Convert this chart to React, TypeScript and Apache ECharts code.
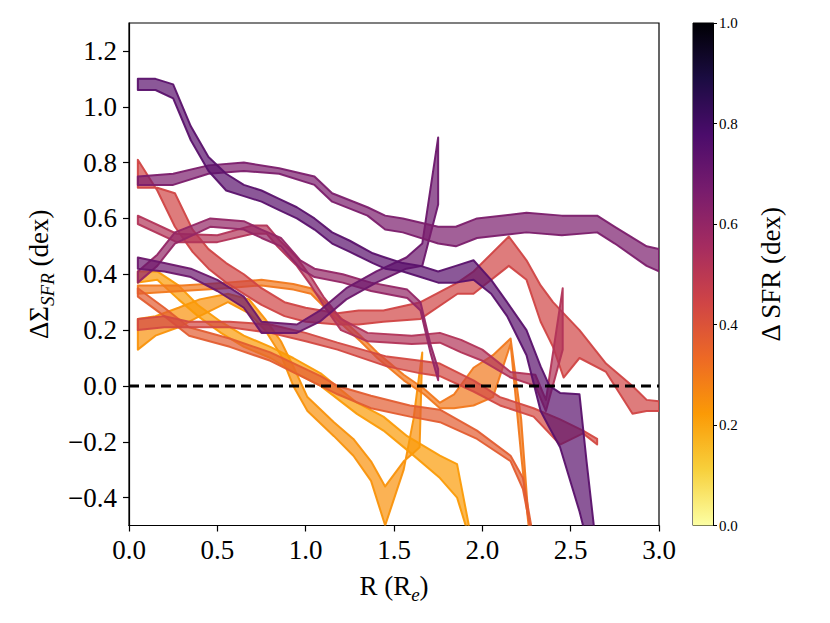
import React, { useEffect, useRef } from "react";
import * as echarts from "echarts";

// ---------- axes / ticks ----------
const X_TICKS = [0, 0.5, 1.0, 1.5, 2.0, 2.5, 3.0];
const Y_TICKS = [-0.4, -0.2, 0.0, 0.2, 0.4, 0.6, 0.8, 1.0, 1.2];
const CBAR_TICKS = [0, 0.2, 0.4, 0.6, 0.8, 1.0];

// inferno colormap stops (t, colour); colourbar uses inferno reversed
const INFERNO = ["#000004", "#1B0C42", "#4B0C6B", "#781C6D", "#A52C60", "#CF4446", "#ED6925", "#FB9A06", "#F7D03C", "#FCFFA4"];

// ---------- bands (R, lower, upper) and their ΔSFR colour value ----------
const A_val = 0.74;
const A_x = [0.05, 0.15, 0.25, 0.35, 0.45, 0.55, 0.65, 0.75, 0.85, 0.95, 1.05, 1.15, 1.25, 1.38, 1.45, 1.55, 1.65, 1.75, 1.85, 1.95, 2.05, 2.14, 2.25, 2.33, 2.38, 2.44, 2.55, 2.59, 2.64];
const A_hi = [1.10, 1.10, 1.08, 0.93, 0.82, 0.76, 0.72, 0.70, 0.67, 0.64, 0.60, 0.55, 0.52, 0.475, 0.46, 0.44, 0.43, 0.41, 0.43, 0.45, 0.38, 0.30, 0.20, 0.07, 0.00, -0.025, -0.03, -0.27, -0.55];
const A_lo = [1.06, 1.06, 1.03, 0.88, 0.77, 0.70, 0.68, 0.66, 0.63, 0.60, 0.56, 0.51, 0.48, 0.44, 0.42, 0.41, 0.39, 0.37, 0.37, 0.38, 0.33, 0.25, 0.11, -0.09, -0.15, -0.22, -0.45, -0.55, -0.60];

const B_val = 0.66;
const B_x = [0.05, 0.25, 0.45, 0.65, 0.85, 1.05, 1.15, 1.35, 1.45, 1.55, 1.75, 1.85, 1.97, 2.25, 2.45, 2.65, 2.75, 2.93, 3.0];
const B_hi = [0.75, 0.76, 0.79, 0.80, 0.78, 0.75, 0.69, 0.64, 0.61, 0.60, 0.57, 0.57, 0.60, 0.62, 0.61, 0.61, 0.57, 0.50, 0.49];
const B_lo = [0.72, 0.72, 0.76, 0.77, 0.76, 0.72, 0.66, 0.61, 0.56, 0.55, 0.51, 0.50, 0.53, 0.55, 0.54, 0.55, 0.51, 0.43, 0.41];

const C_val = 0.70;
const C_x = [0.05, 0.2, 0.35, 0.5, 0.65, 0.75, 0.95, 1.08, 1.23, 1.4, 1.57, 1.66, 1.75];
const C_hi = [0.46, 0.44, 0.42, 0.38, 0.32, 0.23, 0.22, 0.27, 0.35, 0.41, 0.46, 0.51, 0.89];
const C_lo = [0.42, 0.41, 0.39, 0.34, 0.28, 0.19, 0.19, 0.23, 0.31, 0.37, 0.42, 0.43, 0.65];

const D_val = 0.60;
const D_x = [0.05, 0.16, 0.26, 0.46, 0.65, 0.75, 0.86, 0.97, 1.05, 1.21, 1.37, 1.575, 1.65, 1.706, 1.75];
const D_hi = [0.41, 0.47, 0.55, 0.60, 0.59, 0.56, 0.53, 0.45, 0.42, 0.40, 0.37, 0.345, 0.30, 0.15, 0.06];
const D_lo = [0.37, 0.43, 0.51, 0.57, 0.56, 0.53, 0.50, 0.42, 0.39, 0.37, 0.34, 0.315, 0.27, 0.12, 0.02];

const E_val = 0.52;
const E_x = [0.05, 0.27, 0.5, 0.7, 0.78, 0.84, 0.95, 1.03, 1.1, 1.2, 1.35, 1.6, 1.76, 1.88, 2.0, 2.16, 2.3, 2.36, 2.455];
const E_hi = [0.61, 0.545, 0.54, 0.575, 0.575, 0.53, 0.46, 0.39, 0.32, 0.24, 0.19, 0.18, 0.19, 0.165, 0.13, 0.05, 0.04, -0.05, 0.35];
const E_lo = [0.58, 0.515, 0.515, 0.545, 0.545, 0.50, 0.43, 0.36, 0.29, 0.20, 0.16, 0.15, 0.155, 0.12, 0.09, 0.03, 0.0, -0.09, 0.13];

const F_val = 0.44;
const F_x = [0.05, 0.16, 0.26, 0.36, 0.45, 0.55, 0.65, 0.75, 0.88, 1.0, 1.18, 1.3, 1.44, 1.65, 1.86, 1.95, 2.15, 2.25, 2.33, 2.40, 2.46, 2.55, 2.70, 2.85, 2.93, 3.0];
const F_lo = [0.81, 0.70, 0.57, 0.48, 0.42, 0.37, 0.33, 0.29, 0.25, 0.23, 0.22, 0.22, 0.23, 0.24, 0.33, 0.33, 0.43, 0.38, 0.23, 0.14, 0.03, 0.10, 0.05, -0.10, -0.09, -0.09];
const F_hi = [0.71, 0.71, 0.69, 0.56, 0.49, 0.44, 0.40, 0.35, 0.30, 0.28, 0.26, 0.27, 0.27, 0.30, 0.37, 0.41, 0.535, 0.45, 0.36, 0.30, 0.26, 0.20, 0.08, 0.0, -0.05, -0.055];

const R2_val = 0.43;
const R2_x = [0.05, 0.2, 0.34, 0.57, 0.8, 1.0, 1.18, 1.46, 1.65, 1.76, 1.95, 2.1, 2.29, 2.44, 2.57, 2.65];
const R2_hi = [0.24, 0.25, 0.23, 0.23, 0.22, 0.19, 0.155, 0.105, 0.09, 0.08, 0.02, -0.04, -0.08, -0.12, -0.16, -0.19];
const R2_lo = [0.20, 0.21, 0.21, 0.21, 0.19, 0.16, 0.13, 0.07, 0.045, 0.035, -0.02, -0.07, -0.11, -0.21, -0.17, -0.21];

const R1_val = 0.37;
const R1_x = [0.05, 0.2, 0.34, 0.57, 0.8, 1.085, 1.18, 1.37, 1.59, 1.76, 1.97, 2.16, 2.23, 2.29];
const R1_hi = [0.35, 0.28, 0.21, 0.17, 0.12, 0.035, 0.0, -0.035, -0.07, -0.085, -0.16, -0.25, -0.33, -0.55];
const R1_lo = [0.32, 0.25, 0.18, 0.14, 0.09, 0.0, -0.03, -0.08, -0.11, -0.13, -0.19, -0.27, -0.37, -0.57];

const H_val = 0.30;
const H_x = [0.05, 0.3, 0.55, 0.75, 0.93, 1.03, 1.085, 1.18, 1.31, 1.405, 1.555, 1.67, 1.76, 1.84, 1.95, 2.06, 2.16, 2.22, 2.27];
const H_hi = [0.36, 0.36, 0.37, 0.38, 0.365, 0.35, 0.315, 0.255, 0.18, 0.12, 0.04, -0.01, -0.06, -0.03, 0.065, 0.11, 0.17, -0.12, -0.55];
const H_lo = [0.33, 0.34, 0.35, 0.36, 0.345, 0.33, 0.295, 0.235, 0.16, 0.10, 0.02, -0.03, -0.08, -0.08, -0.07, -0.04, 0.15, -0.25, -0.55];

const O2_val = 0.22;
const O2_x = [0.05, 0.16, 0.28, 0.39, 0.52, 0.65, 0.8, 0.93, 1.085, 1.29, 1.44, 1.575, 1.76, 1.857, 1.93];
const O2_hi = [0.41, 0.41, 0.36, 0.29, 0.23, 0.18, 0.14, 0.10, 0.045, -0.06, -0.11, -0.18, -0.25, -0.28, -0.52];
const O2_lo = [0.37, 0.38, 0.31, 0.25, 0.19, 0.14, 0.10, 0.05, 0.00, -0.10, -0.16, -0.23, -0.33, -0.40, -0.55];

const OA_val = 0.24;
const OA_x = [0.05, 0.15, 0.28, 0.4, 0.56, 0.68, 0.77, 0.86, 0.93, 1.01, 1.16, 1.27, 1.37, 1.45, 1.555, 1.61, 1.645, 1.66];
const OA_hi = [0.24, 0.25, 0.28, 0.31, 0.33, 0.31, 0.24, 0.16, 0.07, -0.04, -0.13, -0.19, -0.27, -0.36, -0.27, -0.24, -0.22, 0.12];
const OA_lo = [0.13, 0.18, 0.21, 0.25, 0.30, 0.26, 0.20, 0.11, 0.0, -0.09, -0.18, -0.25, -0.34, -0.50, -0.30, -0.12, 0.05, 0.12];

const ZERO_LINE = [[0, 0], [3, 0]];

const FONT = "'Liberation Serif', 'DejaVu Serif', serif";

function hexToRgb(h: string) {
  const n = parseInt(h.slice(1), 16);
  return [(n >> 16) & 255, (n >> 8) & 255, n & 255];
}
function infernoR(v: number) {
  const t = Math.min(1, Math.max(0, 1 - v)) * (INFERNO.length - 1);
  const i = Math.min(INFERNO.length - 2, Math.floor(t));
  const f = t - i;
  const a = hexToRgb(INFERNO[i]);
  const b = hexToRgb(INFERNO[i + 1]);
  return [0, 1, 2].map((k) => Math.round(a[k] + (b[k] - a[k]) * f));
}

const BANDS = [
  { name: "OA", v: OA_val, x: OA_x, lo: OA_lo, hi: OA_hi },
  { name: "O2", v: O2_val, x: O2_x, lo: O2_lo, hi: O2_hi },
  { name: "H", v: H_val, x: H_x, lo: H_lo, hi: H_hi },
  { name: "R1", v: R1_val, x: R1_x, lo: R1_lo, hi: R1_hi },
  { name: "R2", v: R2_val, x: R2_x, lo: R2_lo, hi: R2_hi },
  { name: "F", v: F_val, x: F_x, lo: F_lo, hi: F_hi },
  { name: "E", v: E_val, x: E_x, lo: E_lo, hi: E_hi },
  { name: "D", v: D_val, x: D_x, lo: D_lo, hi: D_hi },
  { name: "C", v: C_val, x: C_x, lo: C_lo, hi: C_hi },
  { name: "B", v: B_val, x: B_x, lo: B_lo, hi: B_hi },
  { name: "A", v: A_val, x: A_x, lo: A_lo, hi: A_hi },
];

const fmt = (v: number) => (v < 0 ? "\u2212" + Math.abs(v).toFixed(1) : v.toFixed(1));

export default function App() {
  const ref = useRef<HTMLDivElement>(null);
  useEffect(() => {
    if (!ref.current) return;
    const chart = echarts.init(ref.current, null, { renderer: "svg" });

    const bandSeries = BANDS.map((b) => {
      const [r, g, bl] = infernoR(b.v);
      return {
        type: "custom",
        name: b.name,
        xAxisIndex: 0,
        yAxisIndex: 0,
        clip: true,
        encode: { x: 0, y: [1, 2] },
        data: b.x.map((x, i) => [x, b.lo[i], b.hi[i]]),
        renderItem: (params: any, api: any) => {
          if (params.dataIndexInside !== 0) return;
          const n = params.dataInsideLength;
          const top: number[][] = [];
          const bot: number[][] = [];
          for (let i = 0; i < n; i++) {
            const x = api.value(0, i);
            top.push(api.coord([x, api.value(2, i)]));
            bot.push(api.coord([x, api.value(1, i)]));
          }
          return {
            type: "polygon",
            shape: { points: top.concat(bot.reverse()) },
            style: {
              fill: `rgba(${r},${g},${bl},0.7)`,
              stroke: `rgba(${r},${g},${bl},0.95)`,
              lineWidth: 2,
              lineJoin: "round",
            },
          };
        },
      };
    });

    const cbarStops = INFERNO.map((c, i) => ({ offset: i / (INFERNO.length - 1), color: c }));

    const option: any = {
      animation: false,
      grid: [
        { left: 129, top: 23, width: 530, height: 502.5, show: true, borderColor: "#000", borderWidth: 1.2, backgroundColor: "transparent" },
        { left: 693, top: 23, width: 20, height: 502.5, show: true, borderColor: "#000", borderWidth: 1, backgroundColor: "transparent" },
      ],
      xAxis: [
        {
          type: "value", gridIndex: 0, min: 0, max: 3, interval: 0.5,
          name: "R (R{sub|e})", nameLocation: "middle", nameGap: 42,
          nameTextStyle: { fontFamily: FONT, fontSize: 27, color: "#000", lineHeight: 36, rich: { sub: { fontFamily: FONT, fontSize: 19, fontStyle: "italic", color: "#000", verticalAlign: "bottom", lineHeight: 19 } } },
          axisLine: { show: true, onZero: false, lineStyle: { color: "#000", width: 1.2 } },
          axisTick: { show: true, length: 6, lineStyle: { color: "#000", width: 1.2 } },
          axisLabel: { fontFamily: FONT, fontSize: 27, color: "#000", margin: 11, formatter: (v: number) => fmt(v) },
          splitLine: { show: false },
          data: X_TICKS,
        },
        { type: "value", gridIndex: 1, min: 0, max: 1, show: false },
      ],
      yAxis: [
        {
          type: "value", gridIndex: 0, min: -0.5, max: 1.3,
          name: "\u0394\u03A3{sub|SFR} (dex)", nameLocation: "middle", nameGap: 68, nameRotate: 90,
          nameTextStyle: { fontFamily: FONT, fontSize: 27, color: "#000", lineHeight: 36, rich: { sub: { fontFamily: FONT, fontSize: 19, fontStyle: "italic", color: "#000", verticalAlign: "bottom", lineHeight: 19 } } },
          axisLine: { show: true, onZero: false, lineStyle: { color: "#000", width: 1.2 } },
          axisTick: { show: true, length: 6, customValues: Y_TICKS, lineStyle: { color: "#000", width: 1.2 } },
          axisLabel: { fontFamily: FONT, fontSize: 27, color: "#000", margin: 12, customValues: Y_TICKS, formatter: (v: number) => fmt(v) },
          splitLine: { show: false },
        },
        {
          type: "value", gridIndex: 1, min: 0, max: 1, interval: 0.2, position: "right",
          name: "\u0394 SFR (dex)", nameLocation: "middle", nameGap: 44, nameRotate: 90,
          nameTextStyle: { fontFamily: FONT, fontSize: 27, color: "#000" },
          axisLine: { show: true, onZero: false, lineStyle: { color: "#000", width: 1 } },
          axisTick: { show: true, length: 4, lineStyle: { color: "#000", width: 1 } },
          axisLabel: { fontFamily: FONT, fontSize: 15, color: "#000", margin: 6, formatter: (v: number) => v.toFixed(1) },
          splitLine: { show: false },
          data: CBAR_TICKS,
        },
      ],
      series: [
        ...bandSeries,
        {
          type: "line",
          xAxisIndex: 0,
          yAxisIndex: 0,
          data: ZERO_LINE,
          symbol: "none",
          z: 10,
          silent: true,
          lineStyle: { color: "#000", width: 3, type: [10, 6], cap: "butt" },
        },
        {
          type: "custom",
          xAxisIndex: 1,
          yAxisIndex: 1,
          data: [[0, 0, 1, 1]],
          renderItem: (params: any, api: any) => {
            const p0 = api.coord([api.value(0), api.value(3)]);
            const p1 = api.coord([api.value(2), api.value(1)]);
            return {
              type: "rect",
              shape: { x: p0[0], y: p0[1], width: p1[0] - p0[0], height: p1[1] - p0[1] },
              style: { fill: new echarts.graphic.LinearGradient(0, 0, 0, 1, cbarStops) },
            };
          },
        },
      ],
    };
    chart.setOption(option);
    return () => chart.dispose();
  }, []);
  return <div ref={ref} style={{ position: "absolute", left: 0, top: 0, width: 830, height: 623, background: "#fff" }} />;
}
